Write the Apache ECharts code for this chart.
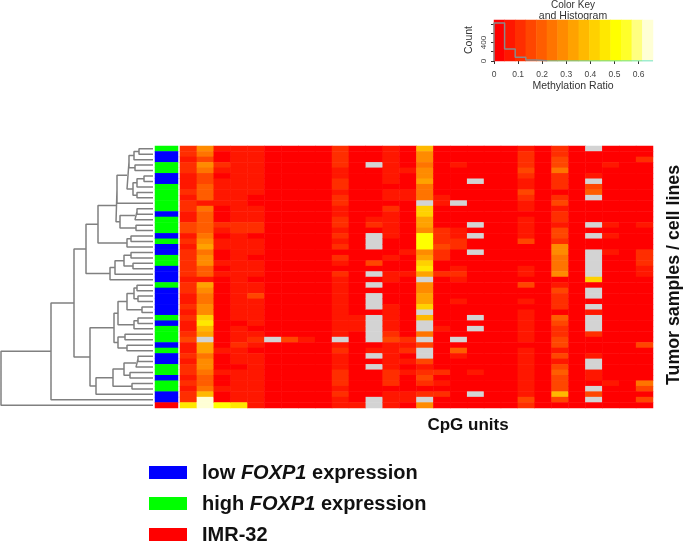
<!DOCTYPE html>
<html><head><meta charset="utf-8">
<style>html,body{margin:0;padding:0;background:#fff}#c{width:685px;height:543px;filter:blur(0.6px)}</style>
<script src="https://cdn.jsdelivr.net/npm/echarts@6/dist/echarts.min.js"></script>
</head><body><div id="c"></div>
<script>
const cpg01=[.11,.11,.07,.11,.11,.07,.07,.07,.11,.07,.11,.11,.07,.07,.15,.15,.07,.11,.07,.11,.11,.11,.11,.11,.07,.11,.11,.07,.07,.11,.07,.11,.07,.07,.11,.15,.07,.07,.11,.07,.11,.11,.07,.11,.07,.11,.11,.46];
const cpg02=[.29,.24,.15,.29,.24,.15,.15,.2,.2,.2,.07,.24,.2,.2,.2,.2,.24,.29,.33,.24,.29,.29,.2,.2,.07,.33,.29,.24,.24,.29,.29,.42,.46,.37,.33,null,.33,.33,.24,.29,.29,.24,.2,.2,.24,.37,.64,.64];
const cpg03=[.07,.02,.02,.11,.07,.02,.07,.07,.07,.07,.07,.02,.02,.02,.11,.07,.02,.07,.07,.02,.02,.07,.02,.07,.02,.02,.02,.02,.02,.02,.02,.02,.02,.02,.02,.02,.02,.07,.02,.02,.02,.07,.02,.02,.07,.02,.02,.5];
const cpg04=[.07,.07,.07,.07,.07,.07,.07,.07,.07,.07,.07,.07,.07,.07,.11,.11,.07,.07,.07,.07,.07,.07,.07,.07,.07,.07,.07,.07,.07,.07,.07,.07,.02,.07,.07,.07,.11,.07,.07,.07,.02,.07,.07,.07,.07,.07,.07,.46];
const cpg05=[.07,.07,.07,.07,.07,.07,.07,.07,.07,.02,.02,.07,.07,.07,.11,.11,.02,.07,.07,.07,.02,.07,.07,.07,.02,.07,.07,.15,.07,.07,.07,.07,.07,.02,.07,.11,.07,.02,.07,.07,.07,.07,.07,.07,.07,.07,.07,.07];
const cpg06=[.02,.02,.02,.02,.02,.02,.02,.02,.02,.02,.02,.02,.02,.02,.02,.02,.02,.02,.02,.02,.02,.02,.02,.02,.02,.02,.02,.02,.02,.02,.02,.02,.02,.02,.02,null,.02,.02,.02,.02,.02,.02,.02,.02,.02,.02,.02,.02];
const cpg07=[.02,.02,.02,.02,.02,.02,.02,.02,.02,.02,.02,.02,.02,.02,.02,.02,.02,.02,.02,.02,.02,.02,.02,.02,.02,.02,.02,.02,.02,.02,.02,.02,.02,.02,.02,.15,.02,.02,.02,.02,.02,.02,.02,.02,.02,.02,.02,.02];
const cpg08=[.02,.02,.02,.02,.02,.02,.02,.02,.02,.02,.02,.02,.02,.02,.02,.02,.02,.02,.02,.02,.02,.02,.02,.02,.02,.02,.02,.02,.02,.02,.02,.02,.02,.02,.02,.07,.02,.02,.02,.02,.02,.02,.02,.02,.02,.02,.02,.02];
const cpg09=[.02,.02,.02,.02,.02,.02,.02,.02,.02,.02,.02,.02,.02,.02,.02,.02,.02,.02,.02,.02,.02,.02,.02,.02,.02,.02,.02,.02,.02,.02,.02,.02,.02,.02,.02,.02,.02,.02,.02,.02,.02,.02,.02,.02,.02,.02,.02,.02];
const cpg10=[.11,.11,.11,.11,.07,.07,.11,.11,.07,.11,.11,.07,.07,.11,.11,.07,.11,.07,.11,.02,.11,.07,.02,.11,.07,.07,.07,.07,.07,.07,.07,.07,.07,.07,.07,null,.07,.11,.07,.07,.07,.11,.11,.11,.07,.11,.07,.07];
const cpg11=[.02,.02,.02,.02,.02,.02,.02,.02,.02,.02,.02,.02,.02,.02,.02,.02,.02,.02,.02,.02,.02,.02,.02,.02,.02,.02,.02,.02,.02,.02,.02,.07,.07,.07,.02,.02,.02,.02,.02,.02,.02,.02,.02,.02,.02,.02,.02,.07];
const cpg12=[.02,.02,.02,null,.02,.02,.02,.02,.02,.02,.02,.02,.02,.07,.11,.02,null,null,null,.02,.02,.15,.02,null,.02,null,.02,null,null,null,.02,null,null,null,null,null,.02,.07,null,.02,null,.02,.02,.02,.02,.02,null,null];
const cpg13=[.07,.07,.07,.07,.07,.07,.07,.02,.07,.07,.02,.11,.07,.07,.07,.07,.07,.02,.02,.02,.07,.02,.02,.07,.07,.02,.02,.02,.02,.07,.07,.07,.07,.07,.11,.15,.07,.07,.07,.07,.07,.11,.11,.11,.02,.07,.07,.07];
const cpg14=[.02,.02,.02,.02,.07,.02,.02,.02,.07,.07,.02,.02,.02,.02,.02,.02,.02,.02,.02,.07,.02,.02,.02,.07,.02,.02,.02,.02,.02,.02,.02,.02,.02,.02,.02,.11,.07,.11,.02,.07,.02,.07,.02,.02,.02,.07,.07,.02];
const cpg15=[.37,.29,.29,.24,.29,.29,.33,.24,.24,.24,null,.42,.42,.33,.33,.29,.5,.5,.5,.29,.33,.42,.46,.33,null,.29,.29,.33,.33,.42,null,.37,null,null,.24,null,.15,null,null,.15,.07,.11,.15,.11,.02,.11,null,.29];
const cpg16=[.02,.02,.02,.02,.02,.02,.02,.02,.02,.07,.07,.02,.02,.02,.02,.11,.11,.11,.15,.11,.11,.02,.02,.11,.02,.02,.02,.02,.02,.02,.02,.02,.02,.07,.02,.02,.02,.02,.02,.02,.02,.11,.02,.07,.02,.11,.02,.02];
const cpg17=[.02,.02,.02,.07,.02,.02,.02,.02,.02,.02,null,.02,.02,.02,.02,.07,.07,.11,.11,.02,.02,.02,.07,.11,.07,.02,.02,.02,.07,.02,.02,.02,.02,.02,.02,null,.02,.2,.07,.02,.02,.02,.02,.02,.02,.02,.02,.02];
const cpg18=[.02,.02,.02,.02,.02,.02,null,.02,.02,.02,.02,.02,.02,.02,null,.02,null,.02,.02,null,.02,.02,.02,.02,.02,.02,.02,.02,.02,.02,.02,null,.02,null,.02,.02,.02,.02,.02,.02,.02,.07,.02,.02,.02,null,.02,.02];
const cpg19=[.02,.02,.02,.02,.02,.02,.02,.02,.02,.02,.02,.02,.02,.02,.02,.02,.02,.02,.02,.02,.02,.02,.02,.02,.02,.02,.02,.02,.02,.02,.02,.02,.02,.02,.02,.02,.02,.02,.02,.02,.02,.02,.02,.02,.02,.02,.02,.02];
const cpg20=[.02,.02,.02,.02,.02,.02,.02,.02,.02,.02,.02,.02,.02,.02,.02,.02,.02,.02,.02,.02,.02,.02,.02,.02,.02,.02,.02,.02,.02,.02,.02,.02,.02,.02,.02,.02,.02,.02,.02,.02,.02,.02,.02,.02,.02,.02,.02,.02];
const cpg21=[.07,.11,.11,.11,.15,.11,.07,.07,.15,.11,.07,.07,.02,.07,.07,.07,.07,.15,.02,.02,.02,.02,.07,.07,.02,.15,.02,.02,.07,.02,.07,.07,.07,.07,.07,.07,.02,.07,.07,.07,.07,.07,.07,.07,.07,.07,.15,.11];
const cpg22=[.02,.02,.02,.02,.02,.02,.02,.02,.02,.02,.02,.02,.02,.02,.02,.02,.02,.02,.02,.02,.02,.02,.02,.02,.02,.02,.02,.02,.02,.02,.02,.02,.02,.02,.02,.02,.02,.02,.02,.02,.02,.02,.02,.02,.02,.02,.02,.02];
const cpg23=[.11,.11,.15,.15,.24,.11,.11,.11,.02,.11,.15,.07,.11,.11,.07,.15,.15,.11,.29,.29,.24,.24,.24,.29,.02,.07,.15,.11,.11,.11,.02,.2,.15,.11,.11,.15,.15,.07,.15,.07,.15,.2,.15,.15,.15,.37,.15,.02];
const cpg24=[.02,.02,.02,.02,.02,.02,.02,.02,.02,.02,.02,.02,.02,.02,.02,.02,.02,.02,.02,.02,.02,.02,.02,.02,.02,.02,.02,.02,.02,.02,.02,.02,.02,.02,.02,.02,.02,.02,.02,.02,.02,.02,.02,.02,.02,.02,.02,.02];
const cpg25=[null,.02,.02,.02,.02,.07,null,.15,.2,null,.02,.02,.02,.02,null,.02,null,.02,.02,null,null,null,null,null,.42,.02,null,null,.02,null,.07,null,null,null,.11,.02,.02,.02,.07,null,null,.07,.07,.02,null,.15,null,.02];
const cpg26=[.02,.02,.02,.07,.02,.02,.02,.02,.02,.02,.02,.02,.02,.02,.07,.02,.07,.02,.02,.07,.02,.02,.02,.02,.02,.02,.02,.02,.02,.02,.02,.02,.02,.02,.02,.02,.02,.02,.02,.02,.02,.02,.02,.07,.02,.02,.02,.02];
const cpg27=[.02,.02,.02,.02,.02,.02,.02,.02,.02,.02,.02,.02,.02,.02,.02,.02,.02,.02,.02,.02,.02,.02,.02,.02,.02,.02,.02,.02,.02,.02,.02,.02,.02,.02,.02,.02,.02,.02,.02,.02,.02,.02,.02,.02,.02,.02,.02,.02];
const cpg28=[.02,.02,.11,.02,.02,.02,.02,.02,.02,.02,.02,.02,.02,.02,.07,.02,.02,.02,.02,.11,.11,.11,.07,.07,.02,.02,.02,.02,.02,.02,.02,.02,.02,.02,.02,.02,.15,.02,.02,.02,.02,.02,.02,.24,.15,.02,.15,.02];
const cpgColumns=[cpg01,cpg02,cpg03,cpg04,cpg05,cpg06,cpg07,cpg08,cpg09,cpg10,cpg11,cpg12,cpg13,cpg14,cpg15,cpg16,cpg17,cpg18,cpg19,cpg20,cpg21,cpg22,cpg23,cpg24,cpg25,cpg26,cpg27,cpg28];

const sampleGroups=['H','L','L','H','H','L','L','H','H','H','H','H','L','H','H','H','L','H','L','L','H','H','L','L','L','H','L','L','L','L','L','H','L','H','H','H','L','H','L','L','H','H','L','H','H','L','L','I'];
const groupNames={L:'low FOXP1 expression',H:'high FOXP1 expression',I:'IMR-32'};
const groupColors={L:'#0000FF',H:'#00FF00',I:'#FF0000'};

// dendrogram: [merge height, child, child]; a number child is a sample row
const clusterA=[26,[24,[19,[14,0,1],2],[18,3,4]],[20,[16,[9,5,6],7],[16,8,9]]];
const clusterB=[33,[18,[16,11,12],13],[17,14,15]];
const clusterC=[26,[22,16,17],18];
const clusterD=[43,[38,[29,[22,19,20],[20,21,22]],23],24];
const clusterE=[35,[26,[19,[16,25,26],[15,27,28]],[11,29,30]],[19,[15,31,32],33]];
const clusterF=[35,[28,34,35],[26,36,37]];
const clusterG=[57,[40,[29,[17,[15,38,39],40],[23,41,42]],[21,43,44]],45];
const treeRoot=[152,[102,[79,[67,[55,[37,[36,clusterA,10],clusterB],clusterC],clusterD],[63,[39,clusterE,clusterF],clusterG]],46],47];

const keyBreaks=[0,.044,.088,.132,.176,.22,.264,.308,.352,.396,.44,.484,.528,.572,.616,.66];
const keyColors=['#FF0000','#FF1700','#FF2E00','#FF4600','#FF5D00','#FF7400','#FF8B00','#FFA200','#FFB900','#FFD100','#FFE800','#FFFF00','#FFFF2A','#FFFF80','#FFFFD5'];
const histEdges=[0,.044,.088,.132,.176,.22];
const histCounts=[820,260,80,20,8];
const keyTicks=[0,.1,.2,.3,.4,.5,.6];

const nRows=sampleGroups.length, rows=sampleGroups.map((_,i)=>'S'+(i+1)), cols=cpgColumns.map((_,i)=>'CpG'+(i+1));
const cells=[];
cpgColumns.forEach((col,x)=>col.forEach((v,y)=>cells.push([x,y,v===null?-1:v])));
const sideCells=sampleGroups.map((g,y)=>[0,y,['L','H','I'].indexOf(g)]);
const keyCells=keyColors.map((_,i)=>[i,0,(keyBreaks[i]+keyBreaks[i+1])/2]);
const pieces=[{min:-2,max:-0.5,color:'#D3D3D3'}].concat(keyColors.map((c,i)=>({min:keyBreaks[i],max:keyBreaks[i+1],color:c})));

const segs=[];
function walk(n){
  if(typeof n==='number')return [0,n+.5];
  const a=walk(n[1]),b=walk(n[2]),h=n[0];
  segs.push([a[0],a[1]],[h,a[1]],[h,b[1]],[b[0],b[1]],[null,null]);
  return [h,(a[1]+b[1])/2];
}
walk(treeRoot);
const histLine=[[0,0]];
histCounts.forEach((c,i)=>{histLine.push([histEdges[i],c],[histEdges[i+1],c]);});
histLine.push([histEdges[histEdges.length-1],0]);

const FF='"Liberation Sans",Arial,sans-serif';
const hidden=(o)=>Object.assign({show:false},o);
const legendRich={b:{fontFamily:FF,fontSize:20,fontWeight:'bold',color:'#111'},i:{fontFamily:FF,fontSize:20,fontWeight:'bold',fontStyle:'italic',color:'#111'}};
const legendRow=(key,y,text)=>[
  {type:'rect',shape:{x:149,y:y-7,width:38,height:13},style:{fill:groupColors[key]},silent:true},
  {type:'text',x:202,y:y,style:{text:text,rich:legendRich,font:'bold 20px '+FF,fill:'#111',verticalAlign:'middle'},silent:true}
];
const plain=(t,x,y,font,extra,fill)=>Object.assign({type:'text',x:x,y:y,silent:true,style:{text:t,font:font,fill:fill||'#111',align:'center',verticalAlign:'middle'}},extra||{});

const chart=echarts.init(document.getElementById('c'),null,{renderer:'canvas'});
chart.setOption({
  animation:false,
  backgroundColor:'#fff',
  grid:[
    {left:180,top:146,width:473,height:262},
    {left:155,top:146,width:23,height:262},
    {left:494,top:20,width:159,height:41},
    {left:1,top:146,width:152,height:262}
  ],
  xAxis:[
    hidden({type:'category',data:cols,gridIndex:0}),
    hidden({type:'category',data:['group'],gridIndex:1}),
    hidden({type:'category',data:keyColors.map((_,i)=>i),gridIndex:2,position:'top'}),
    {type:'value',gridIndex:2,position:'bottom',min:0,max:.66,splitLine:{show:false},
      axisLine:{show:false},
      axisTick:{show:true,length:3,lineStyle:{color:'#333',width:1},customValues:keyTicks},
      axisLabel:{fontFamily:FF,fontSize:8.5,color:'#444',margin:9,customValues:keyTicks,formatter:v=>String(+v.toFixed(1))}},
    hidden({type:'value',gridIndex:3,min:0,max:152,inverse:true})
  ],
  yAxis:[
    hidden({type:'category',data:rows,gridIndex:0,inverse:true}),
    hidden({type:'category',data:rows,gridIndex:1,inverse:true}),
    hidden({type:'category',data:['key'],gridIndex:2,position:'right'}),
    {type:'value',gridIndex:2,position:'left',min:0,max:886,splitLine:{show:false},axisLine:{show:false},
      axisTick:{show:true,length:3,lineStyle:{color:'#333',width:1},customValues:[0,200,400,600,800]},
      axisLabel:{fontFamily:FF,fontSize:8,color:'#444',rotate:90,margin:6,customValues:[0,400]}},
    hidden({type:'value',gridIndex:3,min:0,max:nRows,inverse:true})
  ],
  visualMap:[
    {type:'piecewise',show:false,seriesIndex:[0,2],dimension:2,pieces:pieces},
    {type:'piecewise',show:false,seriesIndex:1,dimension:2,
      pieces:[{value:0,color:groupColors.L,label:groupNames.L},{value:1,color:groupColors.H,label:groupNames.H},{value:2,color:groupColors.I,label:groupNames.I}]}
  ],
  series:[
    {name:'Methylation Ratio',type:'heatmap',xAxisIndex:0,yAxisIndex:0,data:cells,progressive:0,emphasis:{disabled:true},itemStyle:{borderWidth:0}},
    {name:'Samples',type:'heatmap',xAxisIndex:1,yAxisIndex:1,data:sideCells,progressive:0,emphasis:{disabled:true}},
    {name:'Color key',type:'heatmap',xAxisIndex:2,yAxisIndex:2,data:keyCells,progressive:0,emphasis:{disabled:true}},
    {name:'Histogram',type:'line',xAxisIndex:3,yAxisIndex:3,data:histLine,symbol:'none',z:5,lineStyle:{color:'#8A8A8A',width:1.5}},
    {name:'Baseline',type:'line',xAxisIndex:3,yAxisIndex:3,data:[[.22,0],[.66,0]],symbol:'none',z:5,lineStyle:{color:'#40D8C8',width:1}},
    {name:'Dendrogram',type:'line',xAxisIndex:4,yAxisIndex:4,data:segs,symbol:'none',connectNulls:false,lineStyle:{color:'#808080',width:1.5},silent:true}
  ],
  graphic:[
    plain('Color Key',573,5,'10px '+FF,null,'#333'),
    plain('and Histogram',573,16,'10.5px '+FF,null,'#333'),
    plain('Methylation Ratio',573,86,'10.5px '+FF,null,'#333'),
    plain('Count',469,40,'10.5px '+FF,{rotation:Math.PI/2},'#333'),
    plain('CpG units',468,425,'bold 17px '+FF),
    plain('Tumor samples / cell lines',674,275,'bold 17.8px '+FF,{rotation:Math.PI/2}),
    ...legendRow('L',473,'{b|low }{i|FOXP1}{b| expression}'),
    ...legendRow('H',504,'{b|high }{i|FOXP1}{b| expression}'),
    ...legendRow('I',535,'{b|IMR-32}')
  ]
});
</script></body></html>
